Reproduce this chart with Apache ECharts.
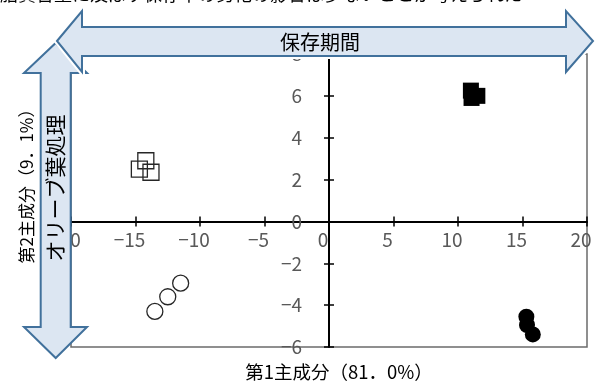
<!DOCTYPE html>
<html>
<head>
<meta charset="utf-8">
<script src="https://cdn.jsdelivr.net/npm/echarts@6/dist/echarts.min.js"></script>
<style>
  html, body { margin: 0; padding: 0; background: #ffffff; }
  #chart { width: 597px; height: 382px; }
</style>
</head>
<body>
<div id="chart"></div>
<script>
// PCA scores: component 1 (x) vs component 2 (y)
const openSquares   = [[-14.7, 2.5], [-14.2, 2.9], [-13.8, 2.35]];
const openCircles   = [[-13.5, -4.3], [-12.5, -3.6], [-11.5, -2.95]];
const filledSquares = [[11.0, 6.25], [11.05, 5.9], [11.5, 6.0]];
const filledCircles = [[15.3, -4.55], [15.35, -4.95], [15.8, -5.4]];

// tick values of the vertical axis, labelled next to the axis at x = 0
const yTicks = [-6, -4, -2, 0, 2, 4, 6, 8];

const xTitle = '第1主成分（81．0%）';
const yTitle = '第2主成分（9．1%）';
const hArrowText = '保存期間';
const vArrowText = 'オリーブ葉処理';
const captionText = '脂質含量に及ぼす保存中の劣化の影響は少ないことが考えられた';

const xMin = -20, xMax = 20, xStep = 5;
const yMin = -6, yMax = 8, yStep = 2;

const tickFont = { color: '#595959', fontSize: 19, fontFamily: 'Noto Sans CJK JP' };
const fmt = v => String(v).replace('-', '−');

const chart = echarts.init(document.getElementById('chart'), null, { renderer: 'canvas' });

const arrowFill = '#dce6f2';
const arrowStroke = '#41719c';

const hArrow = [[57, 41], [82, 11], [82, 27], [566, 27], [566, 11], [593, 41], [566, 72], [566, 56], [82, 56], [82, 72]];
const vArrow = [[55.7, 43], [87, 73], [70.7, 73], [70.7, 327], [87, 327], [55.7, 358], [24, 327], [40.7, 327], [40.7, 73], [24, 73]];

const gridBox = { left: 71, right: 10, top: 54, bottom: 35 };
const W = 597, H = 382;

const tickStyle = { show: true, length: 5, lineStyle: { color: '#000', width: 1.5 } };
const hiddenLine = { onZero: false, lineStyle: { color: '#000', width: 0, opacity: 0 } };
const mainLine = { onZero: false, lineStyle: { color: '#000', width: 2 } };

chart.setOption({
  animation: false,
  backgroundColor: '#ffffff',
  grid: Object.assign({
    show: true, borderColor: '#6b6b6b', borderWidth: 1.5, backgroundColor: 'transparent'
  }, gridBox),
  xAxis: [{
    type: 'value', min: xMin, max: xMax, interval: xStep, position: 'bottom',
    axisLine: mainLine, axisTick: tickStyle,
    axisLabel: Object.assign({ margin: 9, padding: [0, 12, 0, 0], formatter: fmt }, tickFont),
    splitLine: { show: false }
  }, {
    type: 'value', min: xMin, max: xMax, interval: xStep, position: 'top',
    axisLine: hiddenLine, axisTick: tickStyle,
    axisLabel: { show: false }, splitLine: { show: false }
  }],
  yAxis: [{
    type: 'value', min: yMin, max: yMax, interval: yStep, position: 'left',
    axisLine: { onZero: true, lineStyle: { color: '#000', width: 2 } },
    axisTick: tickStyle,
    axisLabel: { show: false },
    splitLine: { show: false }
  }, {
    type: 'value', min: yMin, max: yMax, interval: yStep, position: 'right',
    axisLine: { onZero: true, lineStyle: { color: '#000', width: 0, opacity: 0 } },
    axisTick: tickStyle,
    axisLabel: { show: false }, splitLine: { show: false }
  }],
  series: [
    { type: 'scatter', symbol: 'rect', symbolSize: 16, data: openSquares,
      itemStyle: { color: 'rgba(0,0,0,0)', borderColor: '#262626', borderWidth: 1.3, opacity: 1 } },
    { type: 'scatter', symbol: 'circle', symbolSize: 16, data: openCircles,
      itemStyle: { color: 'rgba(0,0,0,0)', borderColor: '#262626', borderWidth: 1.3, opacity: 1 } },
    { type: 'scatter', symbol: 'rect', symbolSize: 16, data: filledSquares,
      itemStyle: { color: '#000', opacity: 1 } },
    { type: 'scatter', symbol: 'circle', symbolSize: 16, data: filledCircles,
      itemStyle: { color: '#000', opacity: 1 } },
    // vertical-axis tick labels, placed on the y scale to the left of the x = 0 axis
    { type: 'scatter', silent: true, symbol: 'rect', symbolSize: 2, z: 1,
      data: yTicks.map(v => [0, v]),
      label: Object.assign({
        show: true, position: 'left', distance: 26, align: 'right', verticalAlign: 'middle',
        opacity: 1, formatter: p => fmt(p.value[1])
      }, tickFont),
      itemStyle: { color: 'rgba(0,0,0,0)', opacity: 1 } }
  ],
  graphic: [
    // caption line running off the top edge
    { type: 'text', z: 50, left: 0, top: -15,
      style: { text: captionText, fontSize: 18, fontFamily: 'Noto Sans CJK JP', fill: '#000' } },
    // axis titles
    { type: 'text', z: 50, x: 339, y: 372,
      style: { text: xTitle, fontSize: 18.5, fontFamily: 'Noto Sans CJK JP', fill: '#000', align: 'center', verticalAlign: 'middle' } },
    { type: 'text', z: 50, x: 27, y: 182, rotation: Math.PI / 2,
      style: { text: yTitle, fontSize: 17, fontFamily: 'Noto Sans CJK JP', fill: '#000', align: 'center', verticalAlign: 'middle' } },
    // vertical double arrow
    { type: 'polygon', z: 100, shape: { points: vArrow },
      style: { fill: arrowFill, stroke: arrowStroke, lineWidth: 2 } },
    { type: 'text', z: 101, x: 55.5, y: 188, rotation: Math.PI / 2,
      style: { text: vArrowText, fontSize: 21, fontFamily: 'Noto Sans CJK JP', fill: '#000', align: 'center', verticalAlign: 'middle' } },
    // horizontal double arrow, with a white halo over the vertical one
    { type: 'polygon', z: 102, shape: { points: hArrow },
      style: { fill: arrowFill, stroke: '#ffffff', lineWidth: 6 } },
    { type: 'polygon', z: 103, shape: { points: hArrow },
      style: { fill: arrowFill, stroke: arrowStroke, lineWidth: 2 } },
    { type: 'text', z: 104, x: 320, y: 42,
      style: { text: hArrowText, fontSize: 20, fontFamily: 'Noto Sans CJK JP', fill: '#000', align: 'center', verticalAlign: 'middle' } }
  ]
});

// The horizontal axis is shifted onto y = 0 so it crosses the vertical axis at the origin.
const py0 = chart.convertToPixel({ yAxisIndex: 0 }, 0);
chart.setOption({
  xAxis: [
    { offset: -((H - gridBox.bottom) - py0) },
    { offset: -(py0 - gridBox.top) }
  ]
});
</script>
</body>
</html>
